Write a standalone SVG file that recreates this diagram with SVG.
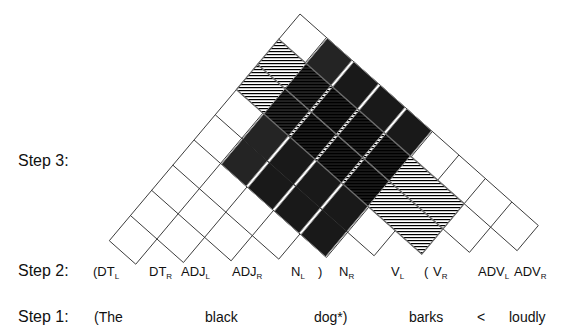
<svg xmlns="http://www.w3.org/2000/svg" width="571" height="326" viewBox="0 0 571 326">
<defs>
<pattern id="hatch" patternUnits="userSpaceOnUse" width="10" height="3"><rect width="10" height="3" fill="#fff"/><rect width="10" height="1.2" fill="#000"/></pattern>
<style>
.grid{fill:none;stroke:#3c3c3c;stroke-width:1}
.hatch{fill:url(#hatch);stroke:none}
.hout{fill:none;stroke:#6e6e6e;stroke-width:1.3}
.blk{fill:#000;fill-opacity:0.9;stroke:#8c8c8c;stroke-width:1}
.blk1{fill-opacity:0.86}
.rowl{fill:none;stroke:#333;stroke-width:1}
.step{font-family:"Liberation Sans",Arial,sans-serif;font-size:16px;fill:#111}
.lab{font-family:"Liberation Sans",Arial,sans-serif;font-size:13px;fill:#111}
.word{font-family:"Liberation Sans",Arial,sans-serif;font-size:14px;fill:#111}
.sub{font-size:8px}
</style>
</defs>
<rect width="571" height="326" fill="#fff"/>
<g id="chart-grid" class="grid">
<path d="M300,14L538.32,225.5M278.81,39.19L517.13,250.69M257.62,64.38L469.46,252.38M236.43,89.57L421.79,254.07M215.24,114.76L374.12,255.76M194.05,139.95L326.45,257.45M172.86,165.14L278.78,259.14M151.67,190.33L231.11,260.83M130.48,215.52L183.44,262.52M109.29,240.71L135.77,264.21"/>
<path d="M300,14L109.29,240.71M326.48,37.5L135.77,264.21M247.01,186.95L183.44,262.52M273.49,210.45L231.11,260.83M299.97,233.95L278.78,259.14M432.4,131.5L326.45,257.45M458.88,155L374.12,255.76M485.36,178.5L421.79,254.07M511.84,202L469.46,252.38M538.32,225.5L517.13,250.69"/>
</g>
<g id="hatched-rows">
<polygon class="hatch" points="278.81,39.19 464.17,203.69 442.98,228.88 257.62,64.38"/>
<polygon class="hatch" points="257.62,64.38 442.98,228.88 421.79,254.07 236.43,89.57"/>
</g>
<g id="black-columns">
<polygon class="blk blk1" points="327.41,38.32 352.03,60.18 246.08,186.13 221.46,164.27"/>
<polygon class="blk" points="353.89,61.82 378.51,83.68 272.56,209.63 247.94,187.77"/>
<polygon class="blk" points="380.37,85.32 404.99,107.18 299.04,233.13 274.42,211.27"/>
<polygon class="blk" points="406.85,108.82 431.47,130.68 325.52,256.63 300.9,234.77"/>
</g>
<g id="row-lines">
<polygon class="hout" points="278.81,39.19 464.17,203.69 442.98,228.88 257.62,64.38"/>
<polygon class="hout" points="257.62,64.38 442.98,228.88 421.79,254.07 236.43,89.57"/>
<path class="rowl" d="M241.72,138.26L347.64,232.26"/>
</g>
<g id="labels">
<text class="step" x="18" y="166">Step 3:</text>
<text class="step" x="18" y="276">Step 2:</text>
<text class="step" x="18" y="322">Step 1:</text>
<text class="lab" x="93" y="276">(DT<tspan class="sub" dy="3">L</tspan></text>
<text class="lab" x="149" y="276">DT<tspan class="sub" dy="3">R</tspan></text>
<text class="lab" x="181" y="276">ADJ<tspan class="sub" dy="3">L</tspan></text>
<text class="lab" x="232" y="276">ADJ<tspan class="sub" dy="3">R</tspan></text>
<text class="lab" x="291" y="276">N<tspan class="sub" dy="3">L</tspan></text>
<text class="lab" x="318" y="276">)</text>
<text class="lab" x="339" y="276">N<tspan class="sub" dy="3">R</tspan></text>
<text class="lab" x="391" y="276">V<tspan class="sub" dy="3">L</tspan></text>
<text class="lab" x="424" y="276">(</text>
<text class="lab" x="433" y="276">V<tspan class="sub" dy="3">R</tspan></text>
<text class="lab" x="478" y="276">ADV<tspan class="sub" dy="3">L</tspan></text>
<text class="lab" x="514" y="276">ADV<tspan class="sub" dy="3">R</tspan></text>
<text class="word" x="94" y="322">(The</text>
<text class="word" x="205" y="322">black</text>
<text class="word" x="314" y="322">dog*)</text>
<text class="word" x="409" y="322">barks</text>
<text class="word" x="477" y="322">&lt;</text>
<text class="word" x="509" y="322">loudly</text>
</g>
</svg>
